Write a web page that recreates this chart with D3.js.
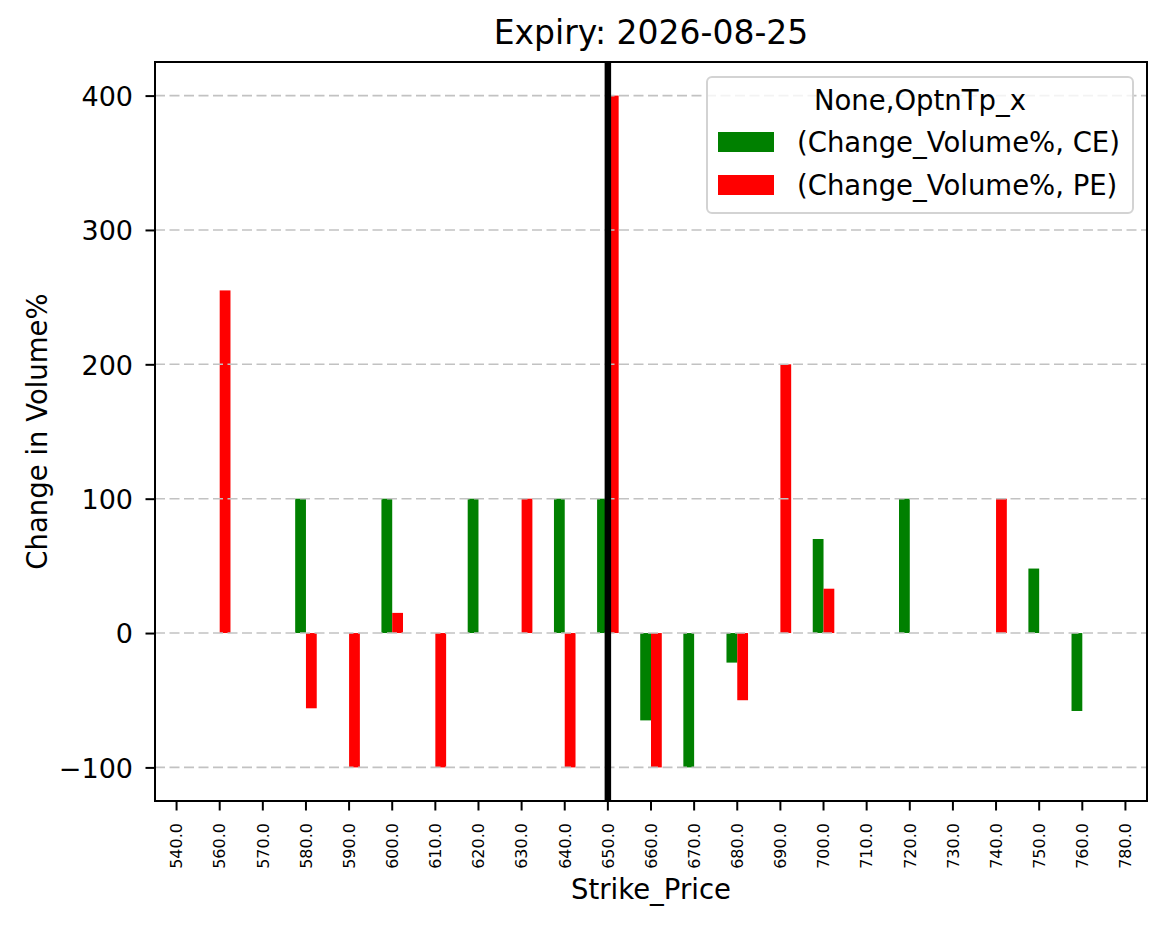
<!DOCTYPE html>
<html>
<head>
<meta charset="utf-8">
<script src="https://cdn.jsdelivr.net/npm/d3@7"></script>
<style>
  body { margin: 0; background: #fff; }
  text { font-family: "DejaVu Sans", sans-serif; fill: #000; }
</style>
</head>
<body>
<div id="chart"></div>
<script>
// strikes on the x axis (550 and 770 are not in the data)
var strikes = [540, 560, 570, 580, 590, 600, 610, 620, 630, 640, 650, 660, 670, 680, 690, 700, 710, 720, 730, 740, 750, 760, 780];
// Change_Volume% per strike, null = no bar
var ceValues = [null, null, null, 100, null, 100, null, 100, null, 100, 100, -65, -100, -22, null, 70, null, 100, null, null, 48, -58, null];
var peValues = [null, 255, null, -56, -100, 15, -100, null, 100, -100, 400, -100, null, -50, 200, 33, null, null, null, 100, null, null, null];
var yTicks = [-100, 0, 100, 200, 300, 400];
var spotStrike = 650;
var titleText = "Expiry: 2026-08-25";
var legendTitle = "None,OptnTp_x";
var seriesNames = ["(Change_Volume%, CE)", "(Change_Volume%, PE)"];
var seriesColors = ["#008000", "#ff0000"];

var W = 1166, H = 928;
var plot = {left: 155, right: 1147, top: 62, bottom: 801};

var svg = d3.select("#chart").append("svg")
    .attr("width", W)
    .attr("height", H);

var x = d3.scaleBand()
    .domain(strikes)
    .range([plot.left, plot.right])
    .paddingInner(0)
    .paddingOuter(0);

var y = d3.scaleLinear()
    .domain([-125, 425])
    .range([plot.bottom, plot.top]);

var bw = x.bandwidth();

// bars: CE left of the tick, PE right of it
var series = [ceValues, peValues];
series.forEach(function(vals, s) {
  var pts = strikes.map(function(k, i) { return {k: k, v: vals[i]}; })
      .filter(function(d) { return d.v !== null; });
  svg.append("g").selectAll("rect")
      .data(pts)
    .enter().append("rect")
      .attr("x", function(d) { return x(d.k) + bw / 2 - (s === 0 ? bw * 0.25 : 0); })
      .attr("width", bw * 0.25)
      .attr("y", function(d) { return y(Math.max(0, d.v)); })
      .attr("height", function(d) { return Math.abs(y(d.v) - y(0)); })
      .attr("fill", seriesColors[s]);
});

// horizontal dashed grid
svg.append("g").selectAll("line")
    .data(yTicks)
  .enter().append("line")
    .attr("x1", plot.left)
    .attr("x2", plot.right)
    .attr("y1", function(d) { return y(d); })
    .attr("y2", function(d) { return y(d); })
    .attr("stroke", "#c2c2c2")
    .attr("stroke-width", 1.6)
    .attr("stroke-dasharray", "10,4.5");

// spot line
svg.append("line")
    .attr("x1", x(spotStrike) + bw / 2)
    .attr("x2", x(spotStrike) + bw / 2)
    .attr("y1", plot.top)
    .attr("y2", plot.bottom)
    .attr("stroke", "#000")
    .attr("stroke-width", 6.5);

// axes
var yAxis = svg.append("g")
    .attr("transform", "translate(" + plot.left + ",0)")
    .call(d3.axisLeft(y).tickValues(yTicks).tickFormat(d3.format("d")).tickSize(9.5).tickPadding(12.5));
yAxis.select(".domain").remove();
yAxis.selectAll("line").attr("stroke-width", 2);
yAxis.selectAll("text")
    .style("font-family", "DejaVu Sans")
    .style("font-size", "27px")
    .attr("dy", "0.36em");

var xAxis = svg.append("g")
    .attr("transform", "translate(0," + plot.bottom + ")")
    .call(d3.axisBottom(x).tickFormat(function(d) { return d.toFixed(1); }).tickSize(9.5));
xAxis.select(".domain").remove();
xAxis.selectAll("line").attr("stroke-width", 2);
xAxis.selectAll("text")
    .style("font-family", "DejaVu Sans")
    .style("font-size", "16px")
    .attr("x", 0)
    .attr("y", 0)
    .attr("dy", "0.36em")
    .attr("text-anchor", "end")
    .attr("transform", "translate(0,22) rotate(-90)");

// frame
svg.append("rect")
    .attr("x", plot.left)
    .attr("y", plot.top)
    .attr("width", plot.right - plot.left)
    .attr("height", plot.bottom - plot.top)
    .attr("fill", "none")
    .attr("stroke", "#000")
    .attr("stroke-width", 2);

// labels
svg.append("text")
    .attr("x", (plot.left + plot.right) / 2)
    .attr("y", 44)
    .attr("text-anchor", "middle")
    .style("font-size", "33px")
    .text(titleText);

svg.append("text")
    .attr("x", (plot.left + plot.right) / 2)
    .attr("y", 899)
    .attr("text-anchor", "middle")
    .style("font-size", "27.5px")
    .text("Strike_Price");

svg.append("text")
    .attr("transform", "translate(47," + (plot.top + plot.bottom) / 2 + ") rotate(-90)")
    .attr("text-anchor", "middle")
    .style("font-size", "27.5px")
    .text("Change in Volume%");

// legend
var lg = svg.append("g");
lg.append("rect")
    .attr("x", 707)
    .attr("y", 77)
    .attr("width", 426)
    .attr("height", 136)
    .attr("rx", 5)
    .attr("fill", "#fff")
    .attr("fill-opacity", 0.8)
    .attr("stroke", "#d3d3d3")
    .attr("stroke-width", 2);
lg.append("text")
    .attr("x", 920)
    .attr("y", 100)
    .attr("dy", "0.36em")
    .attr("text-anchor", "middle")
    .style("font-size", "27.5px")
    .text(legendTitle);
seriesNames.forEach(function(name, i) {
  var cy = 142 + i * 43;
  lg.append("rect")
      .attr("x", 718)
      .attr("y", cy - 10)
      .attr("width", 56)
      .attr("height", 20)
      .attr("fill", seriesColors[i]);
  lg.append("text")
      .attr("x", 797)
      .attr("y", cy)
      .attr("dy", "0.36em")
      .style("font-size", "27.5px")
      .text(name);
});
</script>
</body>
</html>
